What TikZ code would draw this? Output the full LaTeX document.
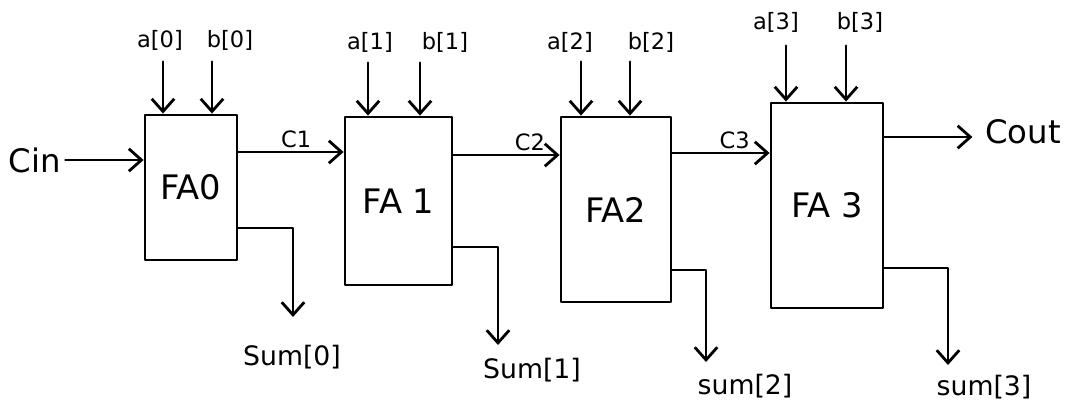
\documentclass[tikz,border=0pt]{standalone}
\usepackage{fontspec}
\setmainfont{DejaVu Sans}
\usetikzlibrary{arrows.meta,calc,positioning}

\tikzset{
  wire/.style={line width=2pt,-{Straight Barb[length=9pt,width=16pt]}},
  fabox/.style={draw,line width=2pt,inner sep=0pt,font=\fontsize{24}{28}\selectfont},
  inlbl/.style={font=\fontsize{16}{19}\selectfont,inner sep=1pt},
  sumlbl/.style={font=\fontsize{19}{23}\selectfont,inner sep=1pt},
  clbl/.style={font=\fontsize{16}{19}\selectfont,inner sep=2pt},
  iolbl/.style={font=\fontsize{23}{27}\selectfont,inner sep=3pt}
}

\begin{document}
\begin{tikzpicture}[x=0.025cm,y=-0.025cm,line join=round,line cap=round]
\useasboundingbox (0,0) rectangle (1078,403);

% full adders
\node[fabox,minimum width=2.3cm,minimum height=3.625cm] (fa0) at (191,187.5) {FA0};
\node[fabox,minimum width=2.675cm,minimum height=4.2cm] (fa1) at (398.5,201) {FA 1};
\node[fabox,minimum width=2.75cm,minimum height=4.625cm] (fa2) at (616,209.5) {FA2};
\node[fabox,minimum width=2.8cm,minimum height=5.125cm] (fa3) at (827,205.5) {FA 3};

% operand bits
\node[inlbl] (a0) at (160,40) {a[0]};
\node[inlbl] (b0) at (230,40) {b[0]};
\node[inlbl] (a1) at (370,42) {a[1]};
\node[inlbl] (b1) at (445,42) {b[1]};
\node[inlbl] (a2) at (570,42) {a[2]};
\node[inlbl] (b2) at (651,42) {b[2]};
\node[inlbl] (a3) at (776,22) {a[3]};
\node[inlbl] (b3) at (860,22) {b[3]};

\draw[wire] ($(a0.south)+(3,10)$) coordinate (t) -- (t |- fa0.north);
\draw[wire] ($(b0.south)+(-18,10)$) coordinate (t) -- (t |- fa0.north);
\draw[wire] ($(a1.south)+(-2,9)$) coordinate (t) -- (t |- fa1.north);
\draw[wire] ($(b1.south)+(-25,9)$) coordinate (t) -- (t |- fa1.north);
\draw[wire] ($(a2.south)+(11,8)$) coordinate (t) -- (t |- fa2.north);
\draw[wire] ($(b2.south)+(-21,8)$) coordinate (t) -- (t |- fa2.north);
\draw[wire] ($(a3.south)+(10,12)$) coordinate (t) -- (t |- fa3.north);
\draw[wire] ($(b3.south)+(-14,12)$) coordinate (t) -- (t |- fa3.north);

% carry chain
\node[iolbl] (cin) at (35,160) {Cin};
\draw[wire] (cin.east) -- (cin.east -| fa0.west);
\draw[wire] ($(fa0.east)+(0,-35.5)$) coordinate (k) -- node[clbl,above,pos=.55] (c1) {C1} (k -| fa1.west);
\draw[wire] ($(fa1.east)+(0,-46)$) coordinate (k) -- node[clbl,above,pos=.72] (c2) {C2} (k -| fa2.west);
\draw[wire] ($(fa2.east)+(0,-56.5)$) coordinate (k) -- node[clbl,above,pos=.64] (c3) {C3} (k -| fa3.west);
\draw[wire] ($(fa3.east)+(0,-68.5)$) coordinate (k) -- ++(88,0) coordinate (kout);
\node[iolbl,right=6pt of kout,yshift=4pt] (cout) {Cout};

% sum bits
\coordinate (e0) at (293,317);
\coordinate (e1) at (498,345);
\coordinate (e2) at (706,362);
\coordinate (e3) at (948,365);
\draw[wire] ($(fa0.east)+(0,40.5)$) -| (e0);
\draw[wire] ($(fa1.east)+(0,46)$) -| (e1);
\draw[wire] ($(fa2.east)+(0,60.5)$) -| (e2);
\draw[wire] ($(fa3.east)+(0,62.5)$) -| (e3);
\node[sumlbl] (s0) at (292,357) {Sum[0]};
\node[sumlbl] (s1) at (532,370) {Sum[1]};
\node[sumlbl] (s2) at (745,386) {sum[2]};
\node[sumlbl] (s3) at (984,387) {sum[3]};
\end{tikzpicture}
\end{document}
